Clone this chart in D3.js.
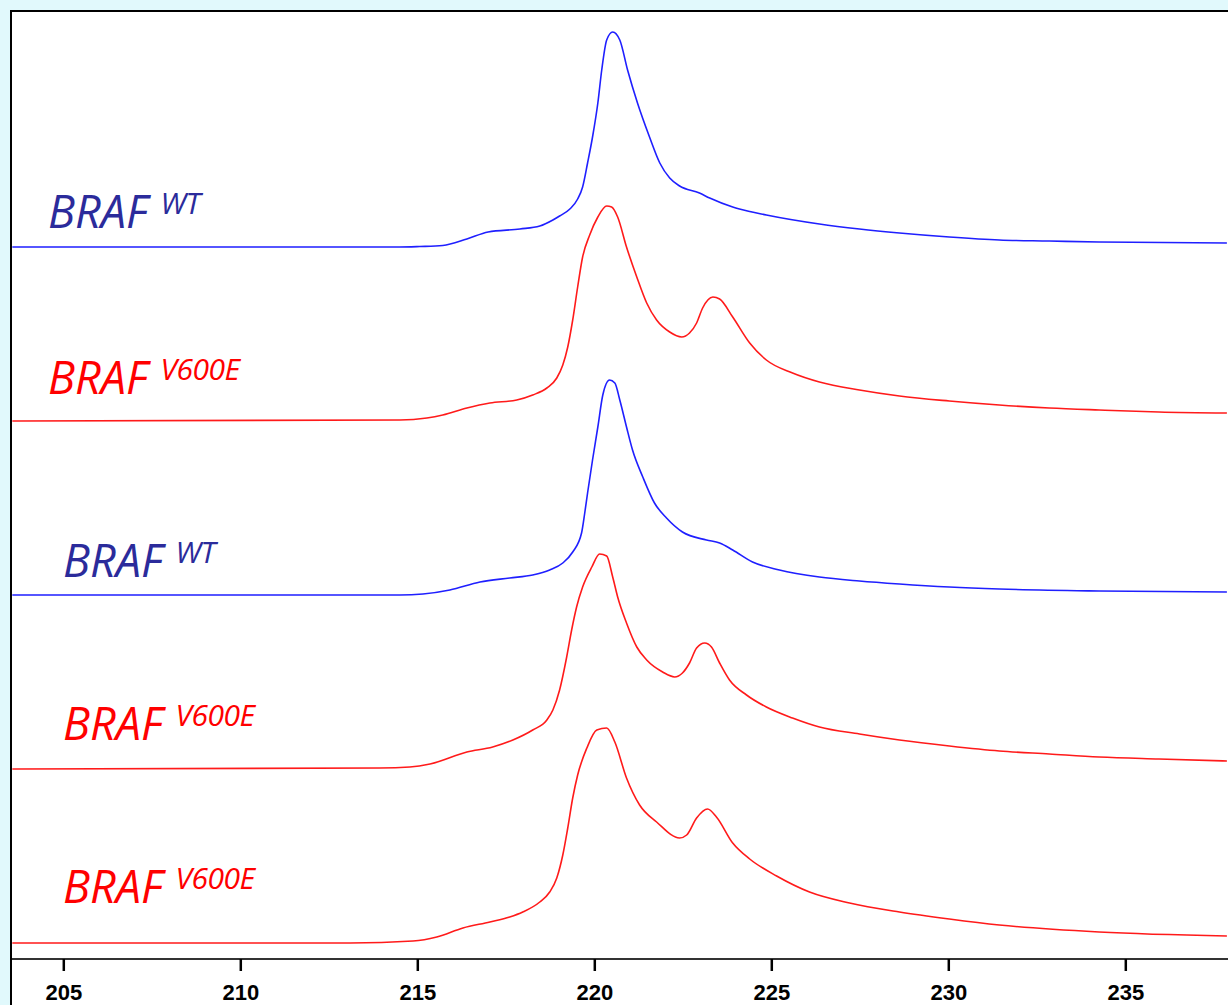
<!DOCTYPE html>
<html>
<head>
<meta charset="utf-8">
<script src="https://cdn.jsdelivr.net/npm/d3@7"></script>
<style>
  html, body { margin: 0; padding: 0; background: #e1f9fc; }
  svg { display: block; }
</style>
</head>
<body>
<svg id="chart" width="1228" height="1005"></svg>
<script>
// ---- DATA ----
const tickValues = [205, 210, 215, 220, 225, 230, 235];
const tickLabels = ["205", "210", "215", "220", "225", "230", "235"];

const traceNames = ["WT", "V600E", "WT", "V600E", "V600E"];
const traceGenes = ["BRAF", "BRAF", "BRAF", "BRAF", "BRAF"];

const temps1 = [203.56, 214.5, 215.07, 215.72, 216.40, 217.0, 217.9, 218.46, 218.83, 219.02, 219.31, 219.53, 219.67, 219.81, 219.95, 220.10, 220.21, 220.35, 220.52, 220.72, 220.94, 221.22, 221.56, 221.85, 222.13, 222.41, 222.97, 223.26, 223.91, 224.10, 224.86, 226.36, 227.49, 228.62, 230.03, 231.44, 232.85, 234.26, 237.87];
const signal1 = [0, 0, 0.5, 1.5, 8, 15, 18, 21, 27, 31, 38, 48, 60, 84, 110, 144, 177, 207, 215, 207, 177, 144, 110, 84, 69, 61, 54, 49, 40, 38, 32, 23, 18, 14, 10, 7, 6, 5, 4];

const temps2 = [203.56, 214.51, 215.27, 215.72, 216.40, 217.05, 217.81, 218.26, 218.66, 218.94, 219.11, 219.25, 219.39, 219.53, 219.67, 219.87, 220.10, 220.35, 220.49, 220.66, 220.91, 221.20, 221.48, 221.76, 222.13, 222.47, 222.69, 222.89, 223.06, 223.35, 223.54, 223.91, 224.39, 224.86, 225.60, 226.36, 227.49, 228.62, 230.03, 231.44, 232.85, 234.26, 235.95, 237.87];
const signal2 = [0, 1, 3, 6, 13, 18, 21, 26, 33, 43, 56, 74, 101, 134, 164, 186, 204, 215, 214, 204, 174, 144, 118, 101, 89, 84, 88, 98, 113, 124, 122, 104, 78, 61, 48, 39, 31, 25, 20, 16, 13, 11, 9, 8];

const temps3 = [203.56, 214.51, 215.16, 215.92, 216.77, 217.61, 218.26, 218.74, 219.11, 219.39, 219.64, 219.73, 219.81, 219.95, 220.10, 220.24, 220.43, 220.58, 220.72, 220.91, 221.08, 221.37, 221.70, 222.04, 222.49, 223.17, 223.54, 223.91, 224.47, 225.23, 226.36, 227.49, 228.62, 230.03, 231.44, 234.26, 237.87];
const signal3 = [0, 0, 1, 5, 13, 17, 20, 25, 32, 43, 62, 82, 102, 135, 168, 200, 215, 212, 195, 168, 145, 118, 92, 77, 63, 55, 52, 45, 33, 25, 18, 14, 11, 8, 6, 4, 3];

const temps4 = [203.56, 213.94, 214.79, 215.36, 216.40, 217.13, 217.70, 218.26, 218.66, 218.83, 219.02, 219.22, 219.36, 219.50, 219.67, 219.93, 220.15, 220.35, 220.52, 220.66, 220.91, 221.20, 221.48, 221.93, 222.27, 222.49, 222.69, 222.89, 223.12, 223.31, 223.54, 223.82, 224.30, 224.86, 225.60, 226.36, 227.49, 228.62, 230.03, 231.44, 232.85, 234.26, 235.95, 237.87];
const signal4 = [0, 1, 2, 5, 17, 22, 29, 39, 49, 59, 79, 112, 139, 162, 182, 202, 215, 213, 192, 172, 146, 122, 109, 97, 92, 96, 106, 121, 126, 122, 106, 89, 74, 62, 51, 42, 35, 29, 23, 18, 15, 12, 10, 8];

const temps5 = [203.56, 213.10, 214.88, 215.55, 216.29, 217.05, 217.61, 217.98, 218.46, 218.74, 218.94, 219.11, 219.25, 219.39, 219.53, 219.79, 220.07, 220.35, 220.58, 220.91, 221.28, 221.76, 222.41, 222.61, 222.89, 223.20, 223.45, 223.91, 224.39, 225.15, 226.08, 227.21, 228.62, 230.03, 231.44, 234.26, 237.87];
const signal5 = [0, 0, 2, 6, 15, 21, 26, 31, 41, 51, 65, 88, 115, 145, 168, 195, 213, 215, 201, 165, 138, 121, 105, 108, 125, 134, 126, 100, 84, 67, 51, 40, 31, 24, 18, 11, 7];

const allTemps = [temps1, temps2, temps3, temps4, temps5];
const allSignals = [signal1, signal2, signal3, signal4, signal5];

// ---- STYLE / LAYOUT ----
const lineColors = ["#1f1fff", "#ff1a1a", "#1f1fff", "#ff1a1a", "#ff1a1a"];
const labelColors = ["#2b2b9b", "#ff0000", "#2b2b9b", "#ff0000", "#ff0000"];
const labelX = [48, 48, 63, 63, 63];
const labelDY = [-19, -27, -18, -29, -40];

const svg = d3.select("#chart");
const W = 1228, H = 1005;

// plot panel
svg.append("rect").attr("x", 12).attr("y", 12).attr("width", W - 12).attr("height", H - 12).attr("fill", "#ffffff");
svg.append("line").attr("x1", 11).attr("x2", 11).attr("y1", 10).attr("y2", H).attr("stroke", "#000").attr("stroke-width", 2);
svg.append("line").attr("x1", 10).attr("x2", W).attr("y1", 11).attr("y2", 11).attr("stroke", "#000").attr("stroke-width", 2);

const x = d3.scaleLinear().domain([205, 235]).range([63.3, 1125.3]);
const baseline = d3.scaleLinear().domain([0, 4]).range([247, 943]);
const amp = d3.scaleLinear().domain([0, 215]).range([0, 215]);

svg.append("clipPath").attr("id", "plotclip")
  .append("rect").attr("x", 12).attr("y", 12).attr("width", W - 12).attr("height", 946);

const g = svg.append("g").attr("clip-path", "url(#plotclip)");

allTemps.forEach((temps, i) => {
  const pts = temps.map((t, k) => [t, allSignals[i][k]]);
  const line = d3.line()
    .x(d => x(d[0]))
    .y(d => baseline(i) - amp(d[1]))
    .curve(d3.curveMonotoneX);
  g.append("path")
    .datum(pts)
    .attr("d", line)
    .attr("fill", "none")
    .attr("stroke", lineColors[i])
    .attr("stroke-width", 1.6)
    .attr("stroke-linejoin", "round");

  const txt = svg.append("text")
    .attr("x", labelX[i])
    .attr("y", baseline(i) + labelDY[i])
    .attr("fill", labelColors[i])
    .attr("font-family", "'Open Sans', 'Noto Sans', sans-serif")
    .attr("font-style", "italic")
    .attr("font-size", 45);
  txt.append("tspan").text(traceGenes[i]);
  txt.append("tspan")
    .attr("font-size", 30)
    .attr("dx", 13)
    .attr("dy", -14)
    .attr("letter-spacing", -0.5)
    .text(traceNames[i]);
});

// x axis
const axisG = svg.append("g").attr("transform", "translate(0,959)");
axisG.append("line").attr("x1", 12).attr("x2", W).attr("y1", 0).attr("y2", 0)
  .attr("stroke", "#333").attr("stroke-width", 2);
const axis = d3.axisBottom(x).tickValues(tickValues)
  .tickFormat((d, i) => tickLabels[i]).tickSize(12).tickPadding(16);
const ax = axisG.append("g").call(axis);
ax.select(".domain").remove();
ax.selectAll(".tick line").attr("stroke", "#000").attr("stroke-width", 2.5);
ax.selectAll(".tick text")
  .attr("fill", "#000")
  .attr("y", 41)
  .attr("dy", 0)
  .attr("font-family", "'Liberation Sans', Arial, sans-serif")
  .attr("font-weight", "bold")
  .attr("font-size", 22);
</script>
</body>
</html>
